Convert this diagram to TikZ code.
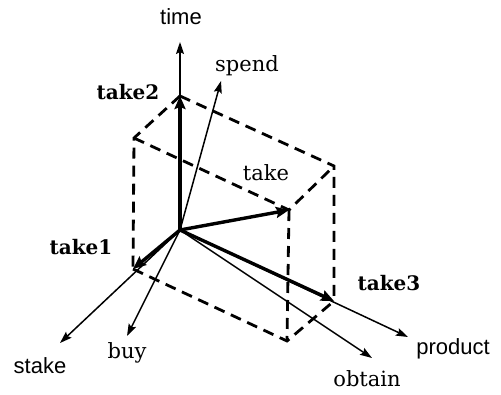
\documentclass[tikz,border=0pt]{standalone}
\usepackage{fontspec}
\newfontfamily\sanslab{Liberation Sans}
\newfontfamily\serflab{DejaVu Serif}
\usetikzlibrary{arrows.meta}
\tikzset{
  thinax/.style={line width=1.5pt, -{Stealth[length=12pt,width=8pt,inset=2pt]}},
  thickax/.style={line width=3.4pt, -{Stealth[length=13pt,width=11pt,inset=2pt]}},
  boxedge/.style={line width=2.8pt, dash pattern=on 11pt off 7pt},
  serlab/.style={font=\fontsize{21}{24}\selectfont\serflab, inner sep=0pt},
  boldlab/.style={font=\fontsize{20}{24}\selectfont\serflab\bfseries, inner sep=0pt},
  sanlab/.style={font=\fontsize{22}{25}\selectfont\sanslab, inner sep=0pt}
}
\begin{document}
\begin{tikzpicture}[x=1pt,y=-1pt]
\useasboundingbox (0,0) rectangle (501,394);
% origin and vertices of the parallelepiped
\coordinate (O) at (180,230);
\coordinate (A) at (133,269);
\coordinate (B) at (180,96);
\coordinate (C) at (334,301);
\coordinate (AB) at (134,138);
\coordinate (BC) at (334,166);
\coordinate (AC) at (287,341);
\coordinate (ABC) at (289,210);
% axis ends
\coordinate (time) at (180,42);
\coordinate (spend) at (221,81);
\coordinate (stake) at (60,343);
\coordinate (buy) at (127,336);
\coordinate (product) at (408,337);
\coordinate (obtain) at (372,358);
% dashed box
\draw[boxedge] (B) -- (AB) -- (A);
\draw[boxedge] (B) -- (BC) -- (C);
\draw[boxedge] (AB) -- (ABC) -- (BC);
\draw[boxedge] (ABC) -- (AC);
\draw[boxedge] (A) -- (AC) -- (C);
% thin axes
\draw[thinax] (O) -- (time);
\draw[thinax] (O) -- (spend);
\draw[thinax] (O) -- (stake);
\draw[thinax] (O) -- (buy);
\draw[thinax] (O) -- (product);
\draw[thinax] (O) -- (obtain);
% thick vectors
\draw[thickax] (O) -- (B);
\draw[thickax] (O) -- (A);
\draw[thickax] (O) -- (C);
\draw[thickax] (O) -- (ABC);
% labels
\node[sanlab] (ltime) at (181,17) {time};
\node[serlab] (lspend) at (247,66) {spend};
\node[boldlab] (ltake2) at (128,92) {take2};
\node[serlab] (ltake) at (266,173) {take};
\node[boldlab] (ltake1) at (81,247) {take1};
\node[boldlab] (ltake3) at (389,283) {take3};
\node[sanlab] (lstake) at (40,366) {stake};
\node[serlab] (lbuy) at (127,353) {buy};
\node[sanlab] (lproduct) at (453,349) {product};
\node[serlab] (lobtain) at (367,379) {obtain};
\end{tikzpicture}
\end{document}
